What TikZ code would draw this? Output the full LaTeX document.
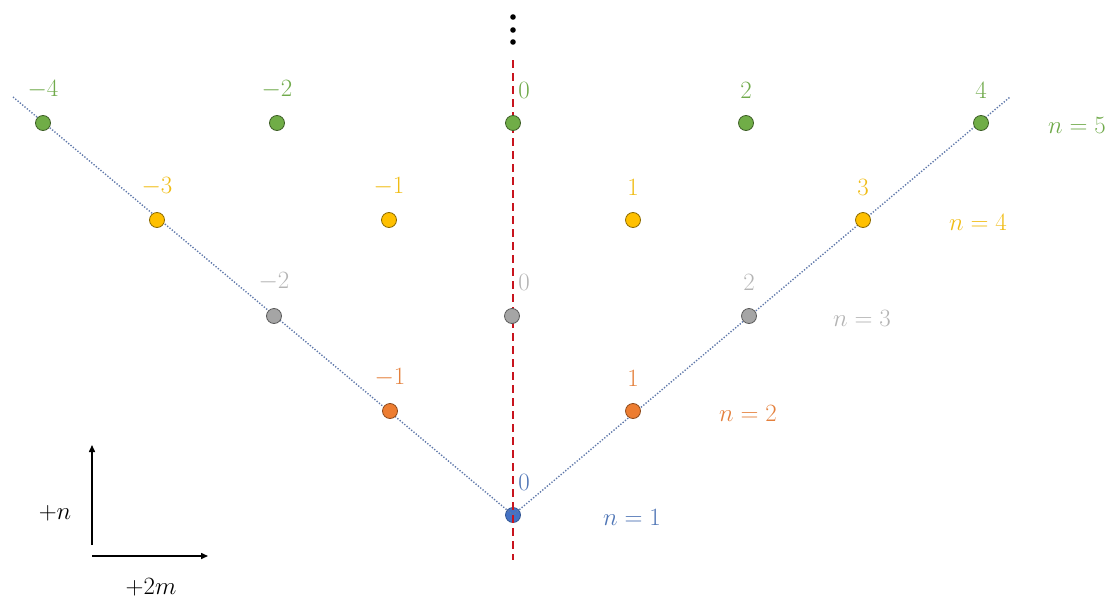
\documentclass[tikz,border=0pt]{standalone}
\usetikzlibrary{arrows.meta}
\definecolor{cgreen}{RGB}{112,173,71}
\definecolor{cyellow}{RGB}{255,192,0}
\definecolor{cgray}{RGB}{165,165,165}
\definecolor{corange}{RGB}{237,125,49}
\definecolor{cblue}{RGB}{68,114,196}
\definecolor{tgreen}{RGB}{112,170,75}
\definecolor{tyellow}{RGB}{240,188,20}
\definecolor{tgray}{RGB}{180,180,180}
\definecolor{torange}{RGB}{228,128,60}
\definecolor{tblue}{RGB}{80,118,182}
\definecolor{cline}{RGB}{95,120,170}
\definecolor{cred}{RGB}{200,20,30}
\tikzset{
  dot/.style={circle, minimum size=15pt, inner sep=0pt, line width=0.8pt},
  lab/.style={font=\fontsize{24}{26}\selectfont, inner sep=0pt},
}
\begin{document}
\begin{tikzpicture}[x=1pt,y=-1pt]
\useasboundingbox (0,0) rectangle (1111,597);
% reference lines
\coordinate (L) at (13,97);
\coordinate (R) at (1010,97);
\coordinate (vt) at (513,60);
\coordinate (vb) at (513,560);
\node[dot, fill=cblue, draw=cblue!75!black] (d1) at (513,515) {};
\draw[cline, dash pattern=on 1.3pt off 1.7pt, line width=1.4pt] (L) -- (d1.center) -- (R);
\draw[cred, dash pattern=on 8pt off 5pt, line width=1.8pt] (vt) -- (vb);
% dots
\node[dot, fill=corange, draw=corange!60!black] (d2a) at (390,411) {};
\node[dot, fill=corange, draw=corange!60!black] (d2b) at (633,411) {};
\node[dot, fill=cgray, draw=cgray!55!black] (d3a) at (274,316) {};
\node[dot, fill=cgray, draw=cgray!55!black] (d3b) at (512,316) {};
\node[dot, fill=cgray, draw=cgray!55!black] (d3c) at (749,316) {};
\node[dot, fill=cyellow, draw=cyellow!55!black] (d4a) at (157,220) {};
\node[dot, fill=cyellow, draw=cyellow!55!black] (d4b) at (389,220) {};
\node[dot, fill=cyellow, draw=cyellow!55!black] (d4c) at (633,220) {};
\node[dot, fill=cyellow, draw=cyellow!55!black] (d4d) at (863,220) {};
\node[dot, fill=cgreen, draw=cgreen!55!black] (d5a) at (43,123) {};
\node[dot, fill=cgreen, draw=cgreen!55!black] (d5b) at (277,123) {};
\node[dot, fill=cgreen, draw=cgreen!55!black] (d5c) at (513,123) {};
\node[dot, fill=cgreen, draw=cgreen!55!black] (d5d) at (746,123) {};
\node[dot, fill=cgreen, draw=cgreen!55!black] (d5e) at (981,123) {};
% labels above dots
\node[lab, text=tblue] (l1) at (524,482) {$0$};
\node[lab, text=torange] (l2a) at (390,378) {$-1$};
\node[lab, text=torange] (l2b) at (633,378) {$1$};
\node[lab, text=tgray] (l3a) at (274,282) {$-2$};
\node[lab, text=tgray] (l3b) at (524,282) {$0$};
\node[lab, text=tgray] (l3c) at (749,282) {$2$};
\node[lab, text=tyellow] (l4a) at (157,187) {$-3$};
\node[lab, text=tyellow] (l4b) at (389,187) {$-1$};
\node[lab, text=tyellow] (l4c) at (633,187) {$1$};
\node[lab, text=tyellow] (l4d) at (863,187) {$3$};
\node[lab, text=tgreen] (l5a) at (43,90) {$-4$};
\node[lab, text=tgreen] (l5b) at (277,90) {$-2$};
\node[lab, text=tgreen] (l5c) at (524,90) {$0$};
\node[lab, text=tgreen] (l5d) at (746,90) {$2$};
\node[lab, text=tgreen] (l5e) at (981,90) {$4$};
% row labels
\node[lab, text=tblue] (n1) at (632,517) {$n=1$};
\node[lab, text=torange] (n2) at (748,413) {$n=2$};
\node[lab, text=tgray] (n3) at (862,318) {$n=3$};
\node[lab, text=tyellow] (n4) at (978,222) {$n=4$};
\node[lab, text=tgreen] (n5) at (1077,125) {$n=5$};
% vertical ellipsis
\fill (513,17) circle (2.8pt) (513,30) circle (2.8pt) (513,42) circle (2.8pt);
% axes
\coordinate (o1) at (92,545);
\coordinate (o2) at (92,556);
\coordinate (ay) at (92,445);
\coordinate (ax) at (208,556);
\draw[line width=1.5pt, -{Triangle[length=7pt,width=6pt]}] (o1) -- (ay);
\draw[line width=1.5pt, -{Triangle[length=7pt,width=6pt]}] (o2) -- (ax);
\node[lab] (pn) at (55,513) {$+n$};
\node[lab] (pm) at (151,587) {$+2m$};
\end{tikzpicture}
\end{document}
